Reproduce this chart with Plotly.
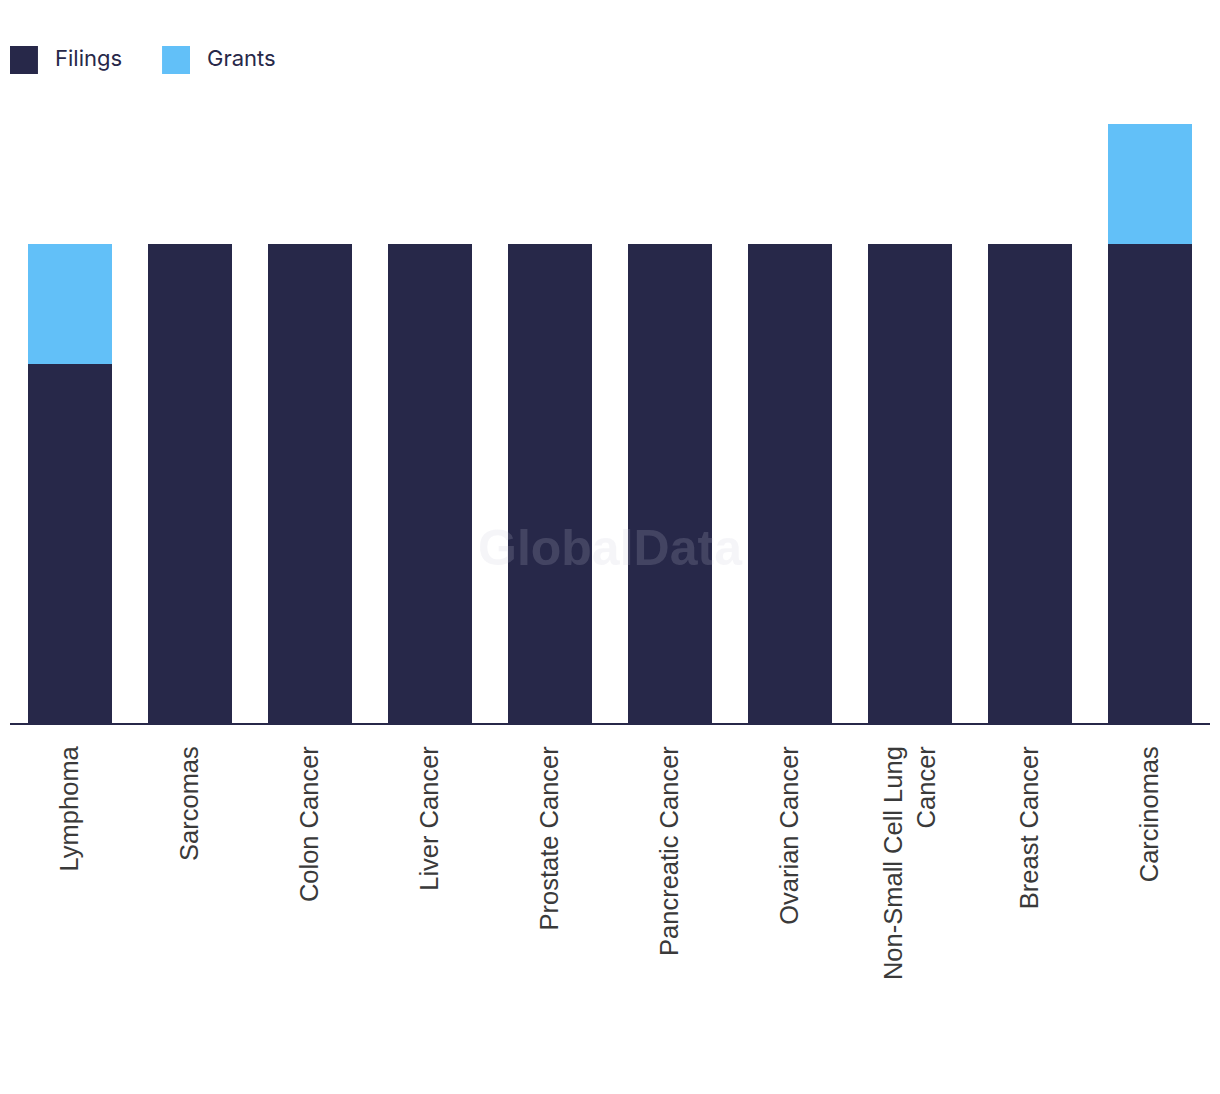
import plotly.graph_objects as go

categories = ["Lymphoma", "Sarcomas", "Colon Cancer", "Liver Cancer", "Prostate Cancer",
              "Pancreatic Cancer", "Ovarian Cancer", "Non-Small Cell Lung<br>Cancer",
              "Breast Cancer", "Carcinomas"]
filings = [3, 4, 4, 4, 4, 4, 4, 4, 4, 4]
grants = [1, 0, 0, 0, 0, 0, 0, 0, 0, 1]

series_names = ["Filings", "Grants"]
series_colors = ["#272849", "#62c0f8"]

fig = go.Figure()
for name, vals, col in zip(series_names, [filings, grants], series_colors):
    fig.add_trace(go.Bar(x=categories, y=vals, name=name, marker_color=col,
                         marker_line_width=0, showlegend=False))

# custom legend with large swatches (paper coords of plot area)
shapes = []
annotations = []
leg_x = [0.0, 0.1267]
for i, (name, col) in enumerate(zip(series_names, series_colors)):
    shapes.append(dict(type="rect", xref="paper", yref="paper",
                       x0=leg_x[i], x1=leg_x[i] + 0.0233, y0=1.0835, y1=1.1302,
                       fillcolor=col, line_width=0))
    annotations.append(dict(text=name, xref="paper", yref="paper",
                            x=leg_x[i] + 0.0358, y=1.1102, xanchor="left", yanchor="middle",
                            showarrow=False,
                            font=dict(family="Inter, Open Sans, sans-serif", size=22,
                                      color="#272849")))

annotations.append(dict(text="<b>GlobalData</b>", x=0.5, y=0.292, xref="paper", yref="paper",
                        xanchor="center", yanchor="middle",
                        showarrow=False,
                        font=dict(family="Liberation Sans, Arial, sans-serif", size=50,
                                  color="rgba(200,200,215,0.18)")))

fig.update_layout(
    barmode="stack",
    bargap=0.3,
    width=1220, height=1094,
    margin=dict(l=2, r=18, t=116, b=379),
    plot_bgcolor="white", paper_bgcolor="white",
    showlegend=False,
    xaxis=dict(showline=True, linecolor="#272849", linewidth=2, ticks="",
               tickangle=-90, ticklabelstandoff=11,
               tickfont=dict(family="Liberation Sans, Arial, sans-serif", size=25.5, color="#3a3a3a")),
    yaxis=dict(range=[0, 5], visible=False, showgrid=False),
    shapes=shapes,
    annotations=annotations,
)

fig.write_html("out.html")
